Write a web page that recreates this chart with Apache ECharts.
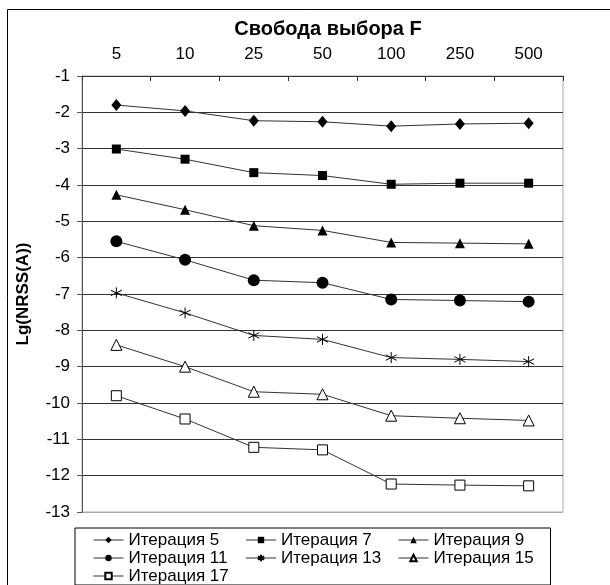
<!DOCTYPE html>
<html>
<head>
<meta charset="utf-8">
<script src="https://cdn.jsdelivr.net/npm/echarts@6/dist/echarts.min.js"></script>
<style>
  html, body { margin: 0; padding: 0; background: #fff; }
  #chart { width: 610px; height: 585px; }
</style>
</head>
<body>
<div id="chart"></div>
<script>
var categories = ['5', '10', '25', '50', '100', '250', '500'];
var yTicks = [-13, -1];

var iter5 = [-1.80, -1.96, -2.23, -2.26, -2.38, -2.32, -2.30];
var iter7 = [-3.01, -3.29, -3.66, -3.74, -3.98, -3.95, -3.95];
var iter9 = [-4.27, -4.68, -5.12, -5.25, -5.58, -5.60, -5.62];
var iter11 = [-5.55, -6.06, -6.62, -6.69, -7.15, -7.18, -7.21];
var iter13 = [-6.97, -7.52, -8.14, -8.25, -8.75, -8.80, -8.86];
var iter15 = [-8.40, -9.00, -9.69, -9.76, -10.35, -10.42, -10.48];
var iter17 = [-9.80, -10.44, -11.22, -11.29, -12.23, -12.26, -12.28];

var chart = echarts.init(document.getElementById('chart'));
var font = '"Liberation Sans", Arial, sans-serif';
var ink = '#333';

// asterisk marker (vertical + X)
var star = 'path://M5,0L5,10M0.7,2.5L9.3,7.5M0.7,7.5L9.3,2.5';

function line(name, data, symbol, size, hollow) {
    return {
        name: name,
        type: 'line',
        data: data,
        symbol: symbol,
        symbolSize: size,
        showSymbol: true,
        lineStyle: { color: ink, width: 1 },
        itemStyle: hollow
            ? { color: '#fff', borderColor: '#000', borderWidth: 1 }
            : { color: '#000', borderColor: '#000', borderWidth: 0 },
        emphasis: { disabled: true },
        z: 3
    };
}

// gridline colours: bottom (min) line is plot border grey, rest black
var gridColors = [];
for (var i = yTicks[0]; i <= yTicks[1]; i++) {
    gridColors.push(i === yTicks[0] ? '#aaa' : ink);
}

var option = {
    animation: false,
    backgroundColor: '#fff',
    textStyle: { fontFamily: font },
    title: {
        text: 'Свобода выбора F',
        left: 323,
        textAlign: 'center',
        top: 14,
        textStyle: { fontFamily: font, fontSize: 20, fontWeight: 'bold', color: '#000' }
    },
    graphic: [{
        type: 'rect',
        left: 5, top: 7,
        shape: { width: 700, height: 700 },
        style: { fill: 'none', stroke: '#000', lineWidth: 1 },
        silent: true
    }],
    grid: {
        left: 82, right: 47, top: 76, bottom: 73,
        show: true,
        borderColor: '#aaa',
        borderWidth: 1
    },
    legend: {
        left: 75,
        top: 528,
        width: 460,
        padding: [3, 0, 0, 18],
        itemGap: 0,
        itemWidth: 30,
        itemHeight: 8,
        borderColor: '#000',
        borderWidth: 1,
        backgroundColor: '#fff',
        lineStyle: { width: 1 },
        textStyle: { fontFamily: font, fontSize: 17, color: '#000', width: 117, lineHeight: 18 },
        data: ['Итерация 5', 'Итерация 7', 'Итерация 9', 'Итерация 11', 'Итерация 13', 'Итерация 15', 'Итерация 17']
    },
    xAxis: {
        type: 'category',
        position: 'top',
        data: categories,
        boundaryGap: true,
        axisLine: { show: true, lineStyle: { color: ink, width: 1 } },
        axisTick: { show: true, inside: true, length: 5, lineStyle: { color: ink } },
        axisLabel: { fontFamily: font, fontSize: 17, color: '#000', margin: 13 },
        splitLine: { show: false }
    },
    yAxis: {
        type: 'value',
        min: yTicks[0],
        max: yTicks[1],
        interval: 1,
        name: 'Lg(NRSS(A))',
        nameLocation: 'middle',
        nameGap: 50,
        nameRotate: 90,
        nameTextStyle: { fontFamily: font, fontSize: 17, fontWeight: 'bold', color: '#000' },
        axisLine: { show: true, lineStyle: { color: '#555', width: 1 } },
        axisTick: { show: true, inside: false, length: 5, lineStyle: { color: '#555' } },
        axisLabel: { fontFamily: font, fontSize: 17, color: '#000', margin: 12 },
        splitLine: { show: true, lineStyle: { color: gridColors, width: 1 } }
    },
    series: [
        line('Итерация 5', iter5, 'diamond', [10, 12], false),
        line('Итерация 7', iter7, 'rect', 9, false),
        line('Итерация 9', iter9, 'triangle', 10, false),
        line('Итерация 11', iter11, 'circle', 12, false),
        line('Итерация 13', iter13, star, 11, true),
        line('Итерация 15', iter15, 'triangle', 11, true),
        line('Итерация 17', iter17, 'rect', 10, true)
    ]
};
chart.setOption(option);
</script>
</body>
</html>
